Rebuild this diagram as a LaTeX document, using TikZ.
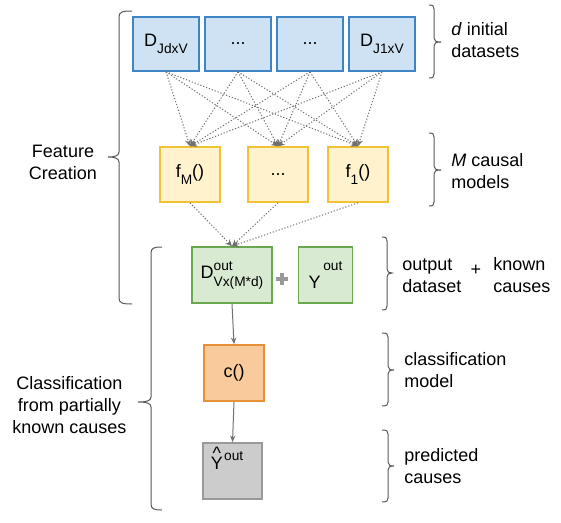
\documentclass[tikz,border=0pt]{standalone}
\usepackage{fontspec}
\setmainfont{Liberation Sans}
\usepackage{tikz}
\usetikzlibrary{arrows.meta}

\definecolor{blueFill}{HTML}{CFE2F3}
\definecolor{blueLine}{HTML}{3D85C6}
\definecolor{yellowFill}{HTML}{FFF2CC}
\definecolor{yellowLine}{HTML}{F1C232}
\definecolor{greenFill}{HTML}{D9EAD3}
\definecolor{greenLine}{HTML}{6AA84F}
\definecolor{orangeFill}{HTML}{F9CB9C}
\definecolor{orangeLine}{HTML}{E69138}
\definecolor{greyFill}{HTML}{CCCCCC}
\definecolor{greyLine}{HTML}{999999}
\definecolor{flowGrey}{HTML}{707070}
\definecolor{braceGrey}{HTML}{595959}

\newcommand{\lblfont}{\fontsize{13.5}{16.5}\selectfont}
\newcommand{\smallfont}{\fontsize{10.3}{11}\selectfont}
\newcommand{\lowsub}[1]{\raisebox{-5pt}{\smallfont #1}}
\newcommand{\highsup}[2]{\raisebox{#1}{\smallfont #2}}
\newcommand{\hatY}{\ooalign{Y\cr\hidewidth\raisebox{8pt}{\textasciicircum}\hidewidth\cr}}

\begin{document}
\begin{tikzpicture}[x=0.75pt,y=0.75pt,yscale=-1,xscale=1,
  box/.style={line width=1.2pt, inner sep=0pt, font=\lblfont},
  dset/.style={box, draw=blueLine, fill=blueFill, minimum width=49.5pt, minimum height=40.5pt},
  cmodel/.style={box, draw=yellowLine, fill=yellowFill, minimum width=45pt, minimum height=41.25pt},
  outbox/.style={box, draw=greenLine, fill=greenFill, minimum height=42pt},
  clsbox/.style={box, draw=orangeLine, fill=orangeFill, minimum width=45pt, minimum height=42pt},
  predbox/.style={box, draw=greyLine, fill=greyFill, minimum width=44.25pt, minimum height=42pt},
  flow/.style={draw=flowGrey, line width=0.75pt, dash pattern=on 0.9pt off 1.4pt, -{Stealth[length=5pt,width=4.5pt]}},
  solidflow/.style={draw=flowGrey, line width=0.75pt, -{Stealth[length=5pt,width=4pt]}},
  bracketline/.style={draw=braceGrey, line width=0.75pt},
  lbl/.style={inner sep=0pt, font=\lblfont, align=left}]
\useasboundingbox (0,0) rectangle (561,522);

%Shape: Rectangle [initial datasets]
\node [dset] (dJd) at (166,44) {D\lowsub{JdxV}};
\node [dset] (dA) at (238,44) {...};
\node [dset] (dB) at (310,44) {...};
\node [dset] (dJ1) at (382,44) {D\lowsub{J1xV}};

%Shape: Rectangle [causal models]
\node [cmodel] (fM) at (190,174.5) {f\lowsub{M}()};
\node [cmodel] (fA) at (278,174.5) {...};
\node [cmodel] (f1) at (358,174.5) {f\lowsub{1}()};

%Shape: Rectangle [output dataset + known causes]
\node [outbox, minimum width=60pt] (dout) at (232,275) {D\rlap{\highsup{6pt}{out}}\raisebox{-6pt}{\smallfont Vx(M*d)}};
\node [outbox, minimum width=40.5pt] (yout) at (325.5,275) {Y\hspace{2pt}\highsup{13pt}{out}};

%Shape: Rectangle [classification model]
\node [clsbox] (cls) at (234,373) {c()};

%Shape: Rectangle [predicted causes]
\node [predbox] (pred) at (232.5,471) {};
\node [lbl] (predtxt) at (227,461) {\hatY\hspace{1pt}\highsup{6.75pt}{out}};

%Shape: Plus
\draw [greyLine, line width=3pt] (276,279) -- (288,279) (282,273) -- (282,285);

%Straight Lines [datasets to models]
\draw [flow] (dJd.south) -- (fM.north);
\draw [flow] (dJd.south) -- (fA.north);
\draw [flow] (dJd.south) -- (f1.north);
\draw [flow] (dA.south) -- (fM.north);
\draw [flow] (dA.south) -- (fA.north);
\draw [flow] (dA.south) -- (f1.north);
\draw [flow] (dB.south) -- (fM.north);
\draw [flow] (dB.south) -- (fA.north);
\draw [flow] (dB.south) -- (f1.north);
\draw [flow] (dJ1.south) -- (fM.north);
\draw [flow] (dJ1.south) -- (fA.north);
\draw [flow] (dJ1.south) -- (f1.north);

%Straight Lines [models to output]
\draw [flow] (fM.south) -- (dout.north);
\draw [flow] (fA.south) -- (dout.north);
\draw [flow] (f1.south) -- (dout.north);

%Straight Lines [classification]
\draw [solidflow] (dout.south) -- (cls.north);
\draw [solidflow] (cls.south) -- (pred.north);

%Shape: Brace [Feature Creation]
\draw [bracketline] (132,11) .. controls (122,11) and (119,12) .. (119,17) -- (119,152) .. controls (119,156) and (114,157) .. (108,157) .. controls (114,157) and (119,158) .. (119,162) -- (119,298) .. controls (119,303) and (122,304) .. (132,304);
%Shape: Brace [Classification]
\draw [bracketline] (162,247) .. controls (154,247) and (151,248) .. (151,253) -- (151,397) .. controls (151,401) and (146,402) .. (138,402) .. controls (146,402) and (151,403) .. (151,407) -- (151,504) .. controls (151,509) and (154,510) .. (162,510);

%Shape: Brace [right side]
\draw [bracketline] (429,5) .. controls (433,5) and (434,6) .. (434,9) -- (434,38) .. controls (434,41) and (436,42) .. (441,42) .. controls (436,42) and (434,43) .. (434,46) -- (434,74) .. controls (434,77) and (433,78) .. (429,78);
\draw [bracketline] (429,133) .. controls (433,133) and (434,134) .. (434,137) -- (434,166) .. controls (434,169) and (436,170) .. (441,170) .. controls (436,170) and (434,171) .. (434,174) -- (434,202) .. controls (434,205) and (433,206) .. (429,206);
\draw [bracketline] (382,237) .. controls (386,237) and (387,238) .. (387,241) -- (387,269) .. controls (387,272) and (389,273) .. (392,273) .. controls (389,273) and (387,274) .. (387,277) -- (387,306) .. controls (387,309) and (386,310) .. (382,310);
\draw [bracketline] (382,333) .. controls (387,333) and (388,334) .. (388,337) -- (388,366) .. controls (388,369) and (390,370) .. (394,370) .. controls (390,370) and (388,371) .. (388,374) -- (388,402) .. controls (388,405) and (387,406) .. (382,406);
\draw [bracketline] (382,430) .. controls (387,430) and (388,431) .. (388,434) -- (388,462) .. controls (388,465) and (390,466) .. (394,466) .. controls (390,466) and (388,467) .. (388,470) -- (388,498) .. controls (388,501) and (387,502) .. (382,502);

% Text Node
\node [lbl, align=center] (featTxt) at (63,162.5) {Feature\\Creation};
% Text Node
\node [lbl, align=center] (clsTxt) at (69.5,405.5) {Classification\\from partially\\known causes};
% Text Node
\node [lbl, anchor=west] (initTxt) at (451,40.5) {\textit{d} initial\\datasets};
% Text Node
\node [lbl, anchor=west] (modTxt) at (451,171) {\textit{M} causal\\models};
% Text Node
\node [lbl, anchor=west] (outTxt) at (402,275.5) {output\\dataset};
% Text Node
\node [lbl] (plusTxt) at (476,270) {+};
% Text Node
\node [lbl, anchor=west] (knownTxt) at (493,275.5) {known\\causes};
% Text Node
\node [lbl, anchor=west] (clsmTxt) at (404,370) {classification\\model};
% Text Node
\node [lbl, anchor=west] (predTxt2) at (404,466) {predicted\\causes};

\end{tikzpicture}
\end{document}
